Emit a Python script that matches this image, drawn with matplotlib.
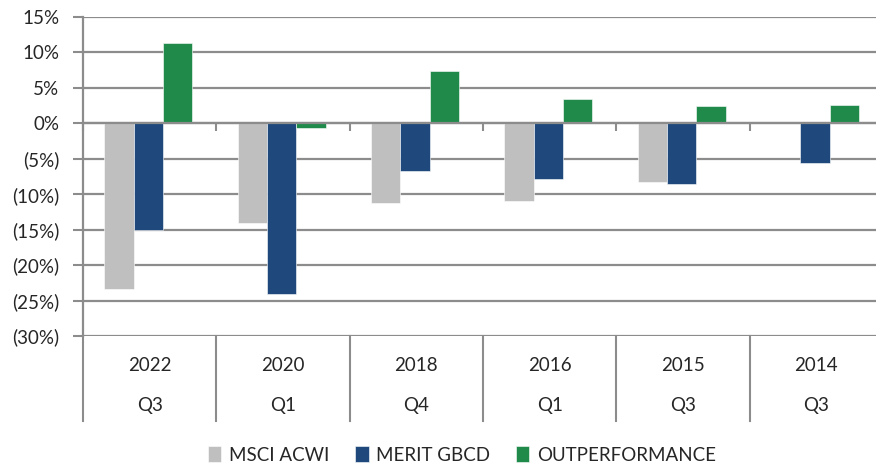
import matplotlib
matplotlib.use('Agg')
import matplotlib.pyplot as plt
import matplotlib.transforms as mtransforms
import numpy as np

years = ['2022', '2020', '2018', '2016', '2015', '2014']
quarters = ['Q3', 'Q1', 'Q4', 'Q1', 'Q3', 'Q3']
msci_acwi = [-23.3, -14.1, -11.3, -11.0, -8.3, np.nan]
merit_gbcd = [-15.1, -24.1, -6.7, -7.9, -8.5, -5.6]
outperformance = [11.3, -0.7, 7.4, 3.4, 2.5, 2.6]
series_names = ['MSCI ACWI', 'MERIT GBCD', 'OUTPERFORMANCE']
yticks = [15, 10, 5, 0, -5, -10, -15, -20, -25, -30]

plt.rcParams['font.family'] = ['Lato', 'DejaVu Sans']
plt.rcParams['font.size'] = 13.5

colors = ['#bfbfbf', '#1f497d', '#1f8a4a']
grid_color = '#8c8c8c'
text_color = '#262626'

W, H = 876, 466
fig = plt.figure(figsize=(W / 100, H / 100), dpi=100)
ax = fig.add_axes([83 / W, (H - 336) / H, 800 / W, 319 / H])

x = np.arange(len(years)) + 0.5
width = 0.22
for i, (vals, name) in enumerate(zip([msci_acwi, merit_gbcd, outperformance], series_names)):
    ax.bar(x + (i - 1) * width - 0.01, vals, width, color=colors[i], label=name,
           edgecolor='white', linewidth=0.4, zorder=3)

ax.set_xlim(0, len(years))
ax.set_ylim(-30, 15)
ax.set_yticks(yticks)
ax.set_yticklabels([f'{v}%' if v >= 0 else f'({-v}%)' for v in yticks], color=text_color)
ax.yaxis.grid(True, color=grid_color, linewidth=1.6, zorder=1)
ax.tick_params(axis='y', length=7, width=1.5, color=grid_color, pad=10)

# x axis sits on the zero line, ticks at category boundaries
ax.spines['bottom'].set_position(('data', 0))
ax.spines['bottom'].set_color(grid_color)
ax.spines['bottom'].set_linewidth(1.6)
ax.spines['bottom'].set_zorder(4)
ax.set_xticks(np.arange(len(years) + 1))
ax.set_xticklabels([])
ax.tick_params(axis='x', length=6, width=1.5, color=grid_color, direction='out')
ax.spines['left'].set_color(grid_color)
ax.spines['left'].set_linewidth(1.6)
ax.spines['top'].set_visible(False)
ax.spines['right'].set_visible(False)

# two-level category labels below the plot
trans = mtransforms.blended_transform_factory(ax.transData, ax.transAxes)
for b in range(len(years) + 1):
    ax.plot([b, b], [0, -0.265], transform=trans, color=grid_color,
            linewidth=1.5, clip_on=False)
for xi, yr, q in zip(x, years, quarters):
    ax.text(xi, -0.094, yr, transform=trans, ha='center', va='center', color=text_color)
    ax.text(xi, -0.219, q, transform=trans, ha='center', va='center', color=text_color)

fig.legend(loc='center', bbox_to_anchor=(462 / W, (H - 455) / H), ncol=3,
           frameon=False, handlelength=0.7, handleheight=0.9, handletextpad=0.4,
           columnspacing=1.4, labelcolor=text_color)

fig.savefig('out.png', dpi=100)
